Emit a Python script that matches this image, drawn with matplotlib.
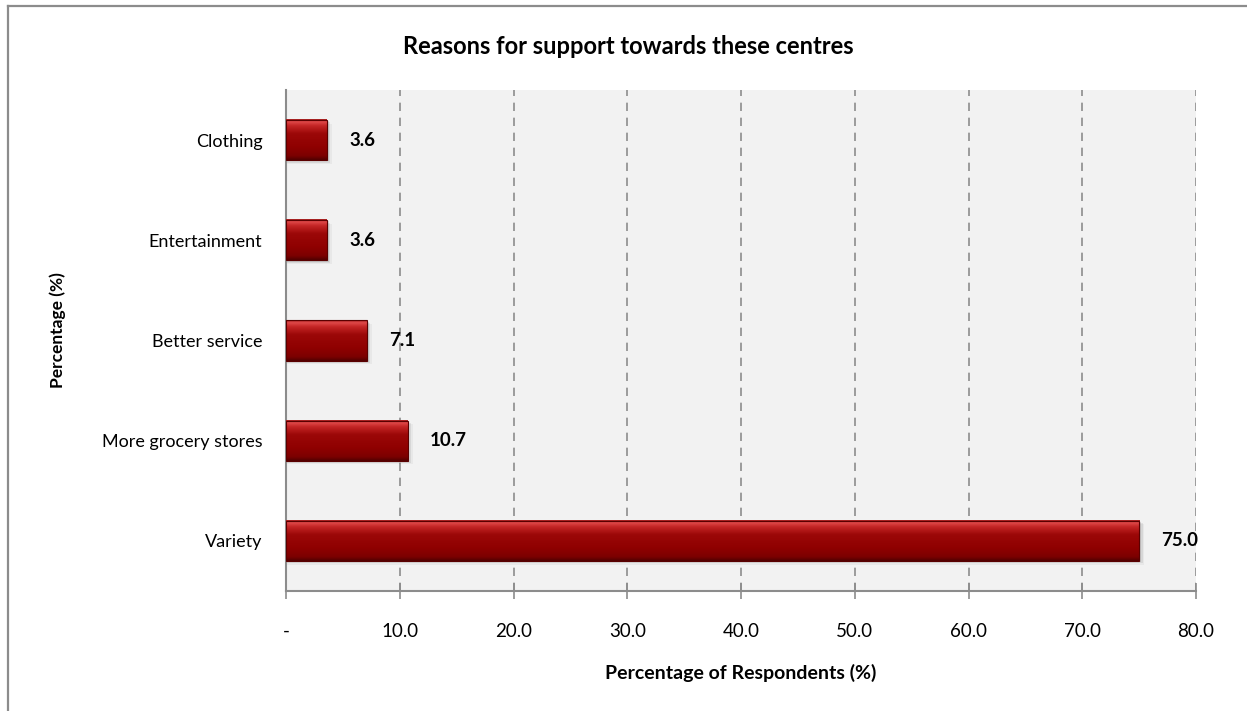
import numpy as np
import matplotlib
matplotlib.use("Agg")
import matplotlib.pyplot as plt
from matplotlib.colors import LinearSegmentedColormap
from matplotlib.patches import Rectangle

plt.rcParams['font.family'] = ['Lato', 'DejaVu Sans']

# survey results, bottom to top
reasons = ["Variety", "More grocery stores", "Better service", "Entertainment", "Clothing"]
percent = [75.0, 10.7, 7.1, 3.6, 3.6]
x_ticks = [0, 10, 20, 30, 40, 50, 60, 70, 80]
x_tick_labels = ["-", "10.0", "20.0", "30.0", "40.0", "50.0", "60.0", "70.0", "80.0"]

BAR_H = 0.4

# glossy red fill, top to bottom
bar_cmap = LinearSegmentedColormap.from_list("gloss", [
    (0.00, "#a01c1c"),
    (0.06, "#e04a4a"),
    (0.16, "#c42525"),
    (0.35, "#9c0808"),
    (0.70, "#8e0000"),
    (0.90, "#7c0000"),
    (1.00, "#500000"),
])
grad = np.linspace(0, 1, 128).reshape(-1, 1)

fig = plt.figure(figsize=(12.47, 7.11), dpi=100)
ax = fig.add_axes([0.2294, 0.1688, 0.9591 - 0.2294, 0.8734 - 0.1688])
ax.set_facecolor("#f2f2f2")

ypos = np.arange(len(reasons))
for y, v in zip(ypos, percent):
    # soft drop shadow
    for k, a in enumerate([0.10, 0.07, 0.04]):
        off = 0.012 * (k + 1)
        ax.add_patch(Rectangle((0, y - BAR_H / 2 - off), v + 0.15 * (k + 1), BAR_H,
                               facecolor="black", alpha=a, edgecolor="none", zorder=2))
    ax.imshow(grad, cmap=bar_cmap, aspect="auto", interpolation="bilinear",
              extent=(0, v, y - BAR_H / 2, y + BAR_H / 2), origin="upper", zorder=3)
    ax.add_patch(Rectangle((0, y - BAR_H / 2), v, BAR_H, facecolor="none",
                           edgecolor="#5a0000", linewidth=0.8, zorder=4))
    ax.annotate(f"{v:.1f}", xy=(v, y), xytext=(16, 0), textcoords="offset points",
                ha="left", va="center", fontsize=13.5, fontweight="bold", color="black")

ax.set_xlim(0, 80)
ax.set_ylim(-0.5, len(reasons) - 0.5)
ax.set_xticks(x_ticks)
ax.set_xticklabels(x_tick_labels, fontsize=13.5)
ax.set_yticks(ypos)
ax.set_yticklabels(reasons, fontsize=13)

ax.grid(axis="x", color="#8c8c8c", linestyle=(0, (5, 4)), linewidth=1.2, zorder=1)
ax.set_axisbelow(True)
for s in ["top", "right"]:
    ax.spines[s].set_visible(False)
for s in ["left", "bottom"]:
    ax.spines[s].set_color("#8c8c8c")
    ax.spines[s].set_linewidth(1.5)
ax.tick_params(axis="x", direction="inout", length=12, width=1.2, color="#8c8c8c", pad=17)
ax.tick_params(axis="y", length=0, pad=17)

ax.set_xlabel("Percentage of Respondents (%)", fontsize=14, fontweight="bold", labelpad=17)
fig.text(0.046, 0.536, "Percentage (%)", rotation=90, ha="center", va="center",
         fontsize=12.5, fontweight="bold")
fig.text(0.504, 0.935, "Reasons for support towards these centres", ha="center",
         va="center", fontsize=17, fontweight="bold")

# chart frame (left and top edges fall inside the canvas)
fig.add_artist(plt.Line2D([0.0064, 0.0064], [0, 0.992], transform=fig.transFigure,
                          color="#8c8c8c", linewidth=1.6))
fig.add_artist(plt.Line2D([0.0064, 1.0], [0.992, 0.992], transform=fig.transFigure,
                          color="#8c8c8c", linewidth=1.6))

fig.savefig("out.png", dpi=100)
